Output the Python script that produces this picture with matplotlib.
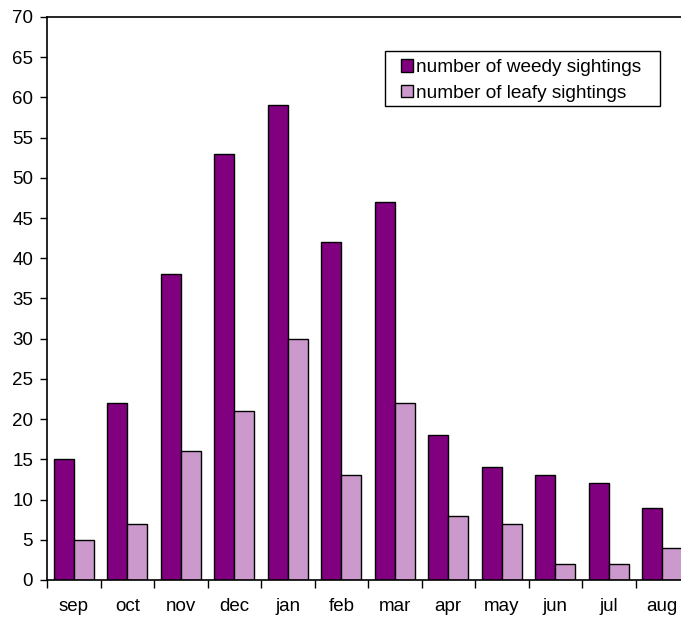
import matplotlib
matplotlib.use('Agg')
import matplotlib.pyplot as plt
from matplotlib.patches import Rectangle
import numpy as np

plt.rcParams['font.family'] = ['Liberation Sans', 'DejaVu Sans']

months = ['sep', 'oct', 'nov', 'dec', 'jan', 'feb', 'mar', 'apr', 'may', 'jun', 'jul', 'aug']
weedy = [15, 22, 38, 53, 59, 42, 47, 18, 14, 13, 12, 9]
leafy = [5, 7, 16, 21, 30, 13, 22, 8, 7, 2, 2, 4]

weedy_color = '#800080'
leafy_color = '#CC99CC'

W, H = 681, 623
fig = plt.figure(figsize=(W/100, H/100), dpi=100)
# axes run off the right edge, as in the original
ax = fig.add_axes([47/W, 1-580/H, 642/W, 563/H])

x = np.arange(len(months))
w = 0.37
ax.bar(x - w/2, weedy, w, color=weedy_color, edgecolor='black', linewidth=1.0, label='number of weedy sightings')
ax.bar(x + w/2, leafy, w, color=leafy_color, edgecolor='black', linewidth=1.0, label='number of leafy sightings')

ax.set_xlim(-0.5, len(months) - 0.5)
ax.set_ylim(0, 70)
ax.set_yticks(range(0, 71, 5))
ax.tick_params(axis='y', labelsize=13.5, direction='out', length=5, width=1, pad=5)

# category ticks at the boundaries, labels centred
ax.set_xticks(np.arange(len(months) + 1) - 0.5)
ax.set_xticklabels([])
ax.set_xticks(x, minor=True)
ax.set_xticklabels(months, minor=True, fontsize=13.5)
ax.tick_params(axis='x', which='major', direction='out', length=6, width=1)
ax.tick_params(axis='x', which='minor', length=0, pad=13)

for s in ax.spines.values():
    s.set_linewidth(1.2)

# legend without its own frame; box drawn separately to match the wide padding
leg = fig.legend(*ax.get_legend_handles_labels(), loc='upper left',
                 bbox_to_anchor=(401/W, 1-59/H), fontsize=13.7, frameon=False,
                 handlelength=0.65, handleheight=0.65, handletextpad=0.15,
                 borderpad=0, labelspacing=0.45, borderaxespad=0)
fig.patches.append(Rectangle((385/W, 1-106/H), 275/W, 55/H, transform=fig.transFigure,
                             fill=False, edgecolor='black', linewidth=1.0))

fig.savefig('out.png', dpi=100)
